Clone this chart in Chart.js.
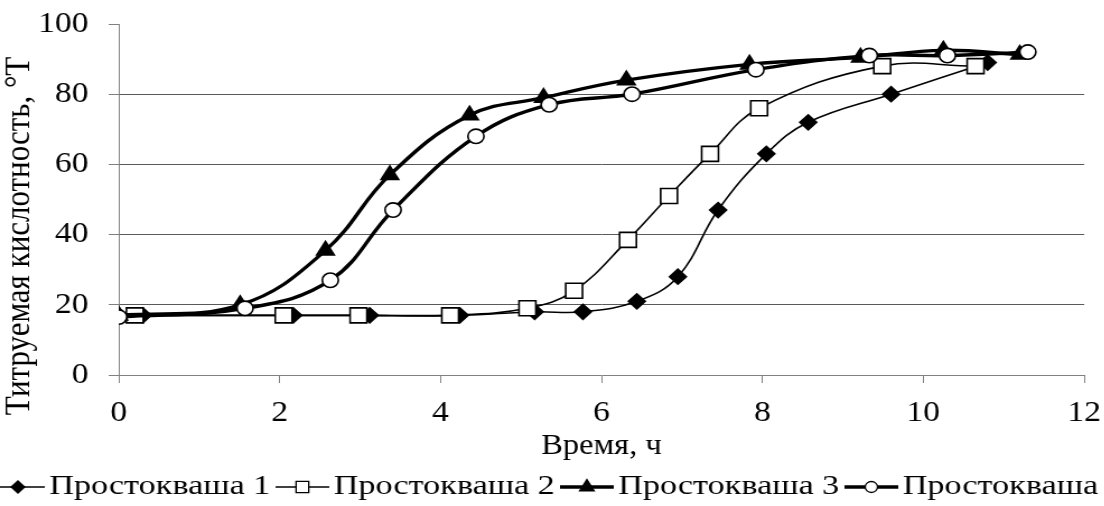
<!DOCTYPE html>
<html><head><meta charset="utf-8">
<script src="https://cdn.jsdelivr.net/npm/chart.js@4.4.1/dist/chart.umd.min.js"></script>
<style>
html,body{margin:0;padding:0;background:#fff;overflow:hidden;width:1104px;height:506px;}
#wrap{position:absolute;left:0;top:0;width:986px;height:506px;transform:scaleX(1.12);transform-origin:0 0;}
canvas{display:block;}
</style></head><body>
<div id="wrap"><canvas id="c" width="986" height="506"></canvas></div>
<script>
// ---- data ----
const xTickValues = [0, 2, 4, 6, 8, 10, 12];
const yTickValues = [0, 20, 40, 60, 80, 100];
const seriesNames = ['Простокваша 1', 'Простокваша 2', 'Простокваша 3', 'Простокваша 4'];
const xTitle = 'Время, ч';
const yTitle = 'Титруемая кислотность, °Т';

const s1x = [0.3, 2.17, 3.12, 4.24, 5.17, 5.77, 6.44, 6.95, 7.45, 8.05, 8.57, 9.6, 10.8];
const s1y = [17, 17, 17, 17, 18, 18, 21, 28, 47, 63, 72, 80, 89];

const s2x = [0.2, 2.05, 2.98, 4.12, 5.08, 5.66, 6.33, 6.84, 7.35, 7.96, 9.49, 10.65];
const s2y = [17, 17, 17, 17, 19, 24, 38.5, 51, 63, 76, 88, 88];

const s3x = [0, 1.51, 2.57, 3.37, 4.36, 5.28, 6.31, 7.84, 9.22, 10.25, 11.2];
const s3y = [17, 20, 35.5, 57, 74, 79, 84, 88.5, 90.5, 92.5, 91.3];

const s4x = [0, 1.57, 2.63, 3.41, 4.44, 5.35, 6.38, 7.92, 9.33, 10.3, 11.3];
const s4y = [16.5, 19, 27, 47, 68, 77, 80, 87, 91, 91, 92];

// ---- styling ----
const FONT = '"Liberation Serif", "Times New Roman", serif';
Chart.defaults.font.family = FONT;
Chart.defaults.color = '#000';

const pts = (xs, ys) => xs.map((x, i) => ({x: x, y: ys[i]}));

const styles = [
  {pointStyle: 'rectRot',  fill: '#000', lw: 1.6, r: 7.5, lr: 6,   order: 4},
  {pointStyle: 'rect',     fill: '#fff', lw: 1.6, r: 10.6, lr: 8,  order: 3},
  {pointStyle: 'triangle', fill: '#000', lw: 3.4, r: 9,   lr: 7.5, order: 2},
  {pointStyle: 'circle',   fill: '#fff', lw: 3.4, r: 7.2, lr: 5.5, order: 1}
];
const seriesData = [pts(s1x, s1y), pts(s2x, s2y), pts(s3x, s3y), pts(s4x, s4y)];

const datasets = seriesData.map((d, i) => ({
  label: seriesNames[i],
  data: d,
  borderColor: '#000',
  backgroundColor: styles[i].fill,
  borderWidth: styles[i].lw,
  pointStyle: styles[i].pointStyle,
  pointRadius: styles[i].r,
  pointHoverRadius: styles[i].r,
  pointBorderWidth: 1.6,
  pointBorderColor: '#000',
  pointBackgroundColor: styles[i].fill,
  tension: 0.4,
  order: styles[i].order
}));

const customDecor = {
  id: 'customDecor',
  afterDraw(chart) {
    const ctx = chart.ctx;
    // y axis title
    ctx.save();
    ctx.fillStyle = '#000';
    ctx.font = '31px ' + FONT;
    ctx.textAlign = 'center';
    ctx.textBaseline = 'middle';
    ctx.translate(18, 236);
    ctx.rotate(-Math.PI / 2);
    ctx.fillText(yTitle, 0, 0);
    ctx.restore();

    // legend
    const pitch = 254, x0 = -8, lineLen = 48, yLine = 487, sxL = 1.09;
    ctx.save();
    ctx.font = '28px ' + FONT;
    ctx.textBaseline = 'middle';
    ctx.textAlign = 'left';
    for (let i = 0; i < seriesNames.length; i++) {
      const st = styles[i];
      const mx = x0 + i * pitch;
      ctx.strokeStyle = '#000';
      ctx.lineWidth = st.lw;
      ctx.beginPath();
      ctx.moveTo(mx, yLine);
      ctx.lineTo(mx + lineLen, yLine);
      ctx.stroke();
      ctx.fillStyle = st.fill;
      ctx.strokeStyle = '#000';
      ctx.lineWidth = 1.3;
      Chart.helpers.drawPoint(ctx, {pointStyle: st.pointStyle, radius: st.lr, borderWidth: 1.3, rotation: 0}, mx + lineLen / 2, yLine);
      ctx.fillStyle = '#000';
      ctx.save();
      ctx.translate(mx + lineLen + 4, yLine);
      ctx.scale(sxL, 1);
      ctx.fillText(seriesNames[i], 0, 0);
      ctx.restore();
    }
    ctx.restore();
  }
};

new Chart(document.getElementById('c'), {
  type: 'line',
  data: {datasets: datasets},
  options: {
    responsive: false,
    animation: false,
    events: [],
    layout: {padding: {top: 24, right: 18, left: 0, bottom: 0}},
    plugins: {legend: {display: false}, tooltip: {enabled: false}},
    scales: {
      x: {
        type: 'linear',
        min: 0, max: 12,
        afterBuildTicks: s => { s.ticks = xTickValues.map(v => ({value: v})); },
        ticks: {font: {size: 30}, color: '#000', padding: 12, maxRotation: 0},
        grid: {drawOnChartArea: false, drawTicks: true, tickLength: 8, tickColor: '#808080', tickWidth: 1},
        border: {color: '#808080', width: 1},
        title: {display: true, text: xTitle, font: {size: 29}, color: '#000', padding: {top: 0, bottom: 42}},
        afterFit: s => { s.height = 131; s.paddingLeft = 0; s.paddingRight = 0; }
      },
      y: {
        type: 'linear',
        min: 0, max: 100,
        afterBuildTicks: s => { s.ticks = yTickValues.map(v => ({value: v})); },
        ticks: {font: {size: 30}, color: '#000', padding: 18},
        grid: {
          color: c => (c.tick && (c.tick.value === 0 || c.tick.value === 100)) ? 'rgba(0,0,0,0)' : '#5a5a5a',
          tickColor: '#808080', tickLength: 9, lineWidth: 1
        },
        border: {color: '#808080', width: 1},
        afterFit: s => { s.width = 106; s.paddingTop = 0; s.paddingBottom = 0; }
      }
    }
  },
  plugins: [customDecor]
});
</script>
</body></html>
